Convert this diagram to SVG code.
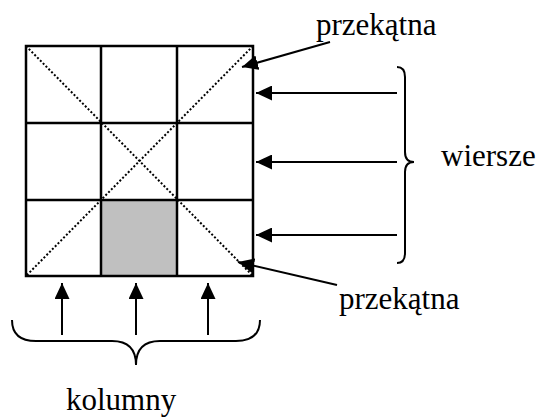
<svg xmlns="http://www.w3.org/2000/svg" width="540" height="419" viewBox="0 0 540 419">
<style>
.grid{fill:none;stroke:#000;stroke-width:2.5}
.diag{stroke:#000;stroke-width:2;stroke-dasharray:2 2}
.arr{stroke:#000;stroke-width:2;fill:none;marker-end:url(#ah)}
.brace{fill:none;stroke:#000;stroke-width:2}
.lbl{font-size:31px;fill:#000}
</style>
<defs>
<marker id="ah" viewBox="0 0 16 15" refX="16" refY="7.5" markerWidth="16" markerHeight="15" markerUnits="userSpaceOnUse" orient="auto">
<path d="M0,0 L16,7.5 L0,15 Z" fill="#000"/>
</marker>
</defs>
<g id="grid">
<rect x="101" y="200" width="76" height="76" fill="#c0c0c0"/>
<line class="diag" x1="26" y1="46" x2="253" y2="276"/>
<line class="diag" x1="253" y1="46" x2="26" y2="276"/>
<rect class="grid" x="26" y="46" width="227" height="230"/>
<line class="grid" x1="101" y1="46" x2="101" y2="276"/>
<line class="grid" x1="177" y1="46" x2="177" y2="276"/>
<line class="grid" x1="26" y1="123" x2="253" y2="123"/>
<line class="grid" x1="26" y1="200" x2="253" y2="200"/>
</g>
<g id="connectors">
<line class="arr" x1="330" y1="42" x2="242" y2="67"/>
<line class="arr" x1="337" y1="285" x2="238" y2="262"/>
<line class="arr" x1="397" y1="93" x2="256" y2="93"/>
<line class="arr" x1="397" y1="162" x2="256" y2="162"/>
<line class="arr" x1="397" y1="235" x2="256" y2="235"/>
<line class="arr" x1="62" y1="335" x2="62" y2="283"/>
<line class="arr" x1="136" y1="335" x2="136" y2="283"/>
<line class="arr" x1="208" y1="335" x2="208" y2="283"/>
</g>
<g id="brace-rows">
<path class="brace" d="M397,67 Q405,67 405,77 L405,152 Q405,162 414,162 Q405,162 405,172 L405,253 Q405,263 397,263"/>
</g>
<g id="brace-cols">
<path class="brace" d="M12,320 Q12,341 36,341 L112,341 Q136,341 136,365 Q136,341 160,341 L236,341 Q260,341 260,320"/>
</g>
<g id="labels" font-family="Liberation Serif, Times New Roman, DejaVu Serif, serif">
<text class="lbl" x="316" y="35">przekątna</text>
<text class="lbl" x="339" y="309">przekątna</text>
<text class="lbl" x="441" y="166">wiersze</text>
<text class="lbl" x="66" y="410">kolumny</text>
</g>
</svg>
